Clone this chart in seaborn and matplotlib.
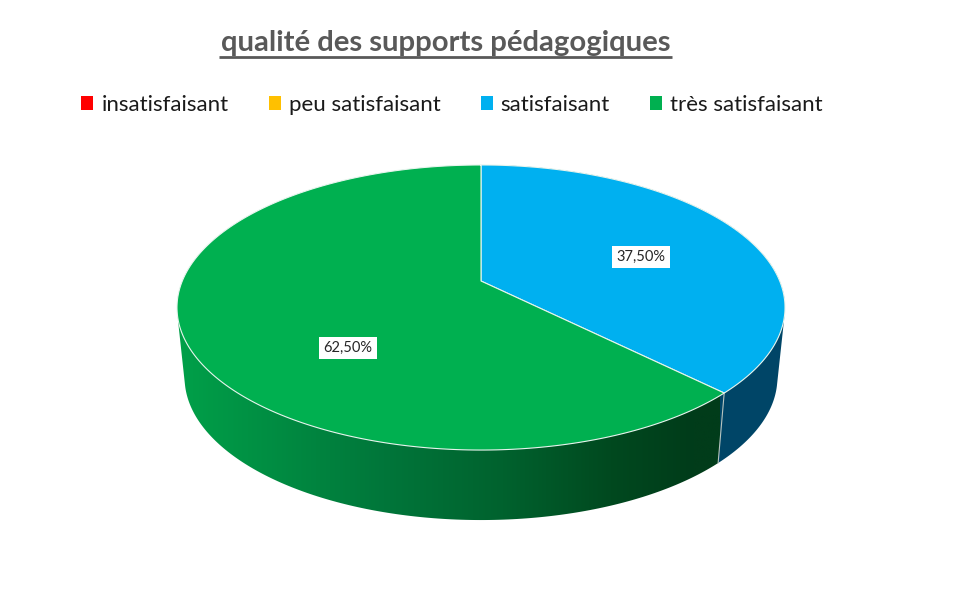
import numpy as np
import seaborn as sns
import matplotlib
matplotlib.use("Agg")
import matplotlib.pyplot as plt
from matplotlib.colors import LinearSegmentedColormap
from matplotlib.patches import Patch, Polygon
from matplotlib.path import Path
from matplotlib.transforms import Affine2D, Transform

categories = ["insatisfaisant", "peu satisfaisant", "satisfaisant", "très satisfaisant"]
values = [0, 0, 37.5, 62.5]
colors = ["#ff0000", "#ffc000", "#00b0f0", "#00b050"]
title_text = "qualité des supports pédagogiques"

sns.set_theme(style="white")
plt.rcParams["font.family"] = ["Lato", "DejaVu Sans"]


# tilted disc: unit circle to pixel position, with perspective
class Tilt(Transform):
    input_dims = 2
    output_dims = 2
    is_affine = False

    def __init__(self, drop=0, shrink=1.0):
        super().__init__()
        self.drop = drop
        self.shrink = shrink

    def transform_non_affine(self, v):
        v = np.asarray(v, dtype=float)
        w = 1 + 0.186 * v[:, 1]
        x = 481 + self.shrink * 298.7 * v[:, 0] / w
        y = 281 + self.drop - 137.6 * v[:, 1] / w
        return np.column_stack([x, y])

    def transform_path_non_affine(self, path):
        polys = path.to_polygons(Affine2D().scale(2000), closed_only=True)
        return Path(self.transform_non_affine(np.vstack(polys) / 2000))


def arc(t1, t2):
    t = np.radians(np.linspace(t1, t2, 300))
    return np.column_stack([np.cos(t), np.sin(t)])


def hull(points):
    pts = sorted(map(tuple, points))

    def half(seq):
        out = []
        for p in seq:
            while len(out) > 1 and ((out[-1][0] - out[-2][0]) * (p[1] - out[-2][1])
                                    - (out[-1][1] - out[-2][1]) * (p[0] - out[-2][0])) <= 0:
                out.pop()
            out.append(p)
        return out[:-1]

    return np.array(half(pts) + half(pts[::-1]))


fig = plt.figure(figsize=(9.6, 6.05), dpi=100)
ax = fig.add_axes([0, 0, 1, 1])


def fmt(p):
    return f"{p:.2f}%".replace(".", ",") if p > 0 else ""


wedges, texts, autotexts = ax.pie(
    values, colors=colors, startangle=90, counterclock=False, autopct=fmt,
    wedgeprops={"edgecolor": "#e8f5ee", "linewidth": 0.8},
)
ax.set_aspect("auto")
ax.set_xlim(0, 960)
ax.set_ylim(605, 0)

top = Tilt()
bottom = Tilt(drop=70, shrink=0.975)
for w in wedges:
    w.set_transform(top + ax.transData)
    w.set_zorder(5)

# side walls
greens = LinearSegmentedColormap.from_list(
    "side", [(0, "#00a049"), (0.38, "#00763a"), (0.6, "#00622e"),
             (0.8, "#00491f"), (0.95, "#013c1a"), (1, "#013c1a")])
for w, c in zip(wedges, colors):
    if w.theta2 - w.theta1 < 0.01:
        continue
    a = arc(w.theta1, w.theta2)
    outline = hull(np.vstack([top.transform_non_affine(a), bottom.transform_non_affine(a)]))
    if c == "#00b0f0":
        ax.add_patch(Polygon(outline, closed=True, facecolor="#004567", edgecolor="none", zorder=2))
        ends = np.vstack([top.transform_non_affine(a[-1:]), bottom.transform_non_affine(a[-1:])])
        ends2 = np.vstack([top.transform_non_affine(a[:1]), bottom.transform_non_affine(a[:1])])
        edge = ends if ends[0, 1] > ends2[0, 1] else ends2
        ax.plot(edge[:, 0], edge[:, 1], color="#b8c4bf", linewidth=0.8, zorder=4)
    else:
        side = Polygon(outline, closed=True, facecolor="none", edgecolor="none")
        ax.add_patch(side)
        img = ax.imshow(np.linspace(0, 1, 256)[None, :], cmap=greens, aspect="auto",
                        extent=(178, 720, 530, 300), zorder=3)
        img.set_clip_path(side)

ax.set_xlim(0, 960)
ax.set_ylim(605, 0)
ax.set_axis_off()

# labels
for t, pos in zip(autotexts, [None, None, (641, 257), (348, 348)]):
    if pos is None:
        t.set_visible(False)
        continue
    t.set_position(pos)
    t.set_zorder(6)
    t.set_fontsize(10.5)
    t.set_color("#262626")
    t.set_ha("center")
    t.set_va("center")
    t.set_bbox({"facecolor": "white", "edgecolor": "none", "pad": 3.2})

ax.text(445.5, 43, title_text, ha="center", va="center", fontsize=21.1,
        fontweight="bold", color="#595959")
ax.hlines(56.5, 219, 672, color="#595959", linewidth=2)

handles = [Patch(facecolor=c, edgecolor="none") for c in colors]
ax.legend(handles, categories, loc="center", bbox_to_anchor=(452 / 960, 1 - 105 / 605),
          ncol=4, frameon=False, fontsize=16, handlelength=0.55, handleheight=0.55,
          handletextpad=0.36, columnspacing=1.8, labelcolor="#1a1a1a")

fig.savefig("out.png", dpi=100, facecolor="white")
